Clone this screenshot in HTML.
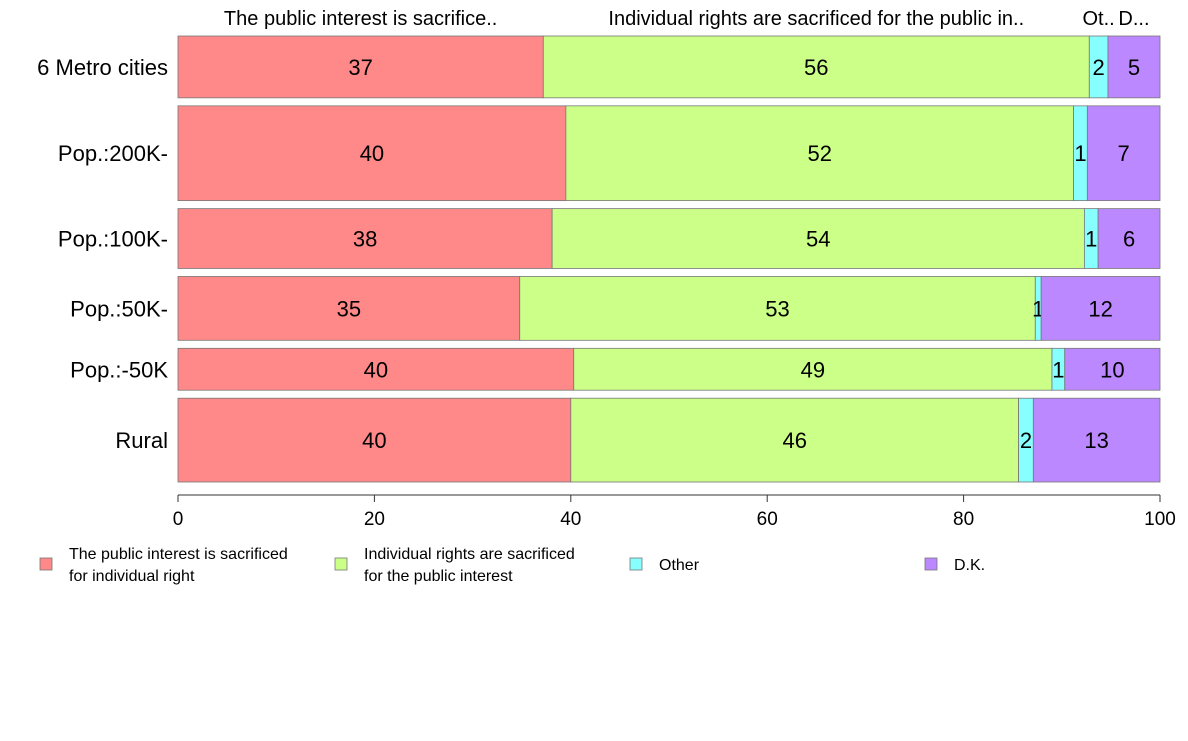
<!DOCTYPE html>
<html><head><meta charset="utf-8"><style>
body{margin:0;background:#fff;font-family:"Liberation Sans",Arial,sans-serif}
</style></head><body>
<svg id="chart" width="1188" height="736" xmlns="http://www.w3.org/2000/svg" font-family="Liberation Sans, Arial, sans-serif"></svg>
<script>
const categories = ["6 Metro cities","Pop.:200K-","Pop.:100K-","Pop.:50K-","Pop.:-50K","Rural"];
const seriesNames = ["The public interest is sacrificed for individual right","Individual rights are sacrificed for the public interest","Other","D.K."];
const headerLabels = ["The public interest is sacrifice..","Individual rights are sacrificed for the public in..","Ot..","D..."];
const publicSacrificed = [37.2,39.5,38.1,34.8,40.3,40.0];
const rightsSacrificed = [55.6,51.7,54.2,52.5,48.7,45.6];
const other = [1.9,1.4,1.4,0.6,1.3,1.5];
const dk = [5.3,7.4,6.3,12.1,9.7,12.9];
const rowWeights = [62,95,60,64,42,84];
const xTicks = [0,20,40,60,80,100];
const colors = ["#ff8888","#ccff88","#88ffff","#bb88ff"];
const svg = document.getElementById('chart');
const NS = "http://www.w3.org/2000/svg";
const x0 = 178, x1 = 1160, yTop = 36, yBot = 482, gap = 8;
const xs = v => x0 + (x1 - x0) * v / 100;
function mk(tag, attrs, text){const e=document.createElementNS(NS,tag);for(const k in attrs)e.setAttribute(k,attrs[k]);if(text!==undefined)e.textContent=text;svg.appendChild(e);return e;}
const series = [publicSacrificed, rightsSacrificed, other, dk];
const totalW = rowWeights.reduce((a,b)=>a+b,0);
const avail = (yBot - yTop) - gap*(categories.length-1);
let y = yTop;
categories.forEach((cat,i)=>{
  const h = avail * rowWeights[i] / totalW;
  const lab = mk('text',{x:168,y:y+h/2+8,'text-anchor':'end','font-size':22,fill:'#000'},cat);
  
  
  let cum = 0;
  series.forEach((s,j)=>{
    const v = s[i];
    const r = mk('rect',{x:xs(cum),y:y,width:xs(cum+v)-xs(cum),height:h,fill:colors[j],stroke:'#777','stroke-width':0.8});
    
    
    const t = mk('text',{x:xs(cum+v/2),y:y+h/2+8,'text-anchor':'middle','font-size':22,fill:'#000'},Math.round(v));
    
    
    if(i===0){
      const hd = mk('text',{x:xs(cum+v/2),y:25,'text-anchor':'middle','font-size':20,fill:'#000'},headerLabels[j]);
      
      
    }
    cum += v;
  });
  y += h + gap;
});
const ax = mk('line',{x1:x0,x2:x1,y1:495,y2:495,stroke:'#333','stroke-width':1});


xTicks.forEach(t=>{
  const tk = mk('line',{x1:xs(t),x2:xs(t),y1:495,y2:502,stroke:'#333'});
  
  
  const tl = mk('text',{x:xs(t),y:525,'text-anchor':'middle','font-size':19,fill:'#000'},t);
  
  
});
const legX = [40,335,630,925];
const legLines = [["The public interest is sacrificed","for individual right"],["Individual rights are sacrificed","for the public interest"],["Other"],["D.K."]];
legLines.forEach((ls,j)=>{
  const b = mk('rect',{x:legX[j],y:558,width:12,height:12,fill:colors[j],stroke:'#777','stroke-width':0.8});
  
  
  ls.forEach((l,k)=>{
    const yy = ls.length===1 ? 570 : 559 + k*22;
    const t = mk('text',{x:legX[j]+29,y:yy,'font-size':16,fill:'#000'},l);
    
    
  });
});
</script>
</body></html>
